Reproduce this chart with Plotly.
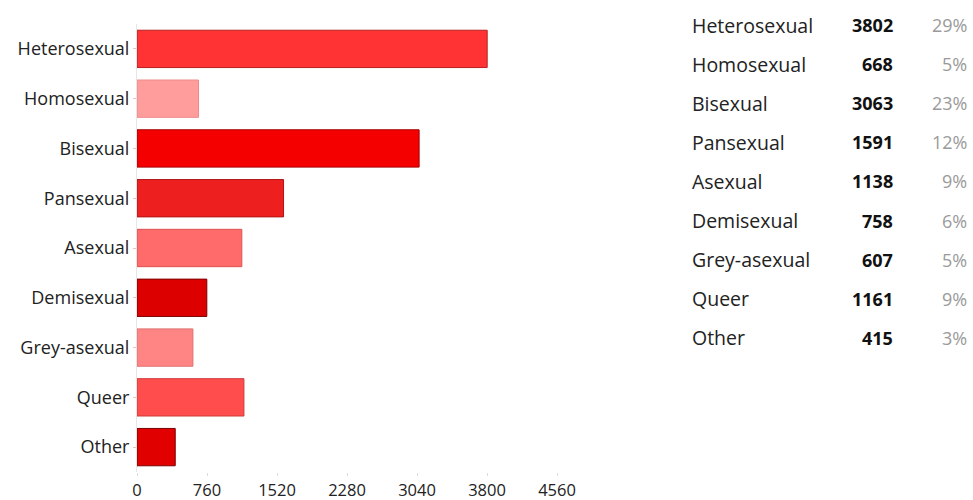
import plotly.graph_objects as go

categories = ["Heterosexual", "Homosexual", "Bisexual", "Pansexual", "Asexual",
              "Demisexual", "Grey-asexual", "Queer", "Other"]
counts = [3802, 668, 3063, 1591, 1138, 758, 607, 1161, 415]
bar_colors = ["#ff3333", "#ff9c9c", "#f40000", "#ee1f1f", "#ff6a6a",
              "#dc0000", "#ff8585", "#ff4d4d", "#e00000"]
line_colors = ["#b82020", "#f08a8a", "#a80000", "#b01515", "#e05050",
               "#800000", "#e07070", "#d03b3b", "#7a0000"]
tick_vals = [0, 760, 1520, 2280, 3040, 3800, 4560]

total = sum(counts)
percents = [f"{round(c * 100 / total)}%" for c in counts]

FONT = "Open Sans"

fig = go.Figure(go.Bar(
    y=categories, x=counts, orientation="h",
    marker=dict(color=bar_colors, line=dict(color=line_colors, width=1)),
    width=0.75,
))

L, R, T, B = 137, 416, 24, 28
W, H = 973, 500
pw = W - L - R
ph = H - T - B

def px_to_paper_x(px):
    return (px - L) / pw

def py_to_paper_y(py):
    return (H - B - py) / ph

annotations = []
row0, pitch = 25, 39.1
for i, (cat, c, p) in enumerate(zip(categories, counts, percents)):
    yy = py_to_paper_y(row0 + i * pitch)
    annotations.append(dict(x=px_to_paper_x(690), y=yy, xref="paper", yref="paper",
                            text=cat, showarrow=False, xanchor="left", yanchor="middle",
                            font=dict(family=FONT, size=19.5, color="#222")))
    annotations.append(dict(x=px_to_paper_x(895), y=yy, xref="paper", yref="paper",
                            text=f"<b>{c}</b>", showarrow=False, xanchor="right", yanchor="middle",
                            font=dict(family=FONT, size=18, color="#111")))
    annotations.append(dict(x=px_to_paper_x(969), y=yy, xref="paper", yref="paper",
                            text=p, showarrow=False, xanchor="right", yanchor="middle",
                            font=dict(family=FONT, size=18, color="#9a9a9a")))

fig.update_layout(
    width=W, height=H,
    margin=dict(l=L, r=R, t=T, b=B, autoexpand=False),
    paper_bgcolor="white", plot_bgcolor="white",
    showlegend=False,
    annotations=annotations,
    bargap=0.25,
)
fig.update_xaxes(range=[0, 4560], tickvals=tick_vals, ticktext=[str(v) for v in tick_vals],
                 showgrid=False, zeroline=False, showline=False, automargin=False,
                 ticks="outside", ticklen=3, tickcolor="#ddd",
                 tickfont=dict(family=FONT, size=16.5, color="#222"), ticklabelstandoff=0)
fig.update_yaxes(categoryorder="array", categoryarray=categories[::-1], automargin=False,
                 showgrid=False, zeroline=False, showline=True, linecolor="#e6e6e6",
                 ticks="outside", ticklen=3, tickcolor="#f0c0c0",
                 tickfont=dict(family=FONT, size=18, color="#222"))

fig.write_html("out.html")
